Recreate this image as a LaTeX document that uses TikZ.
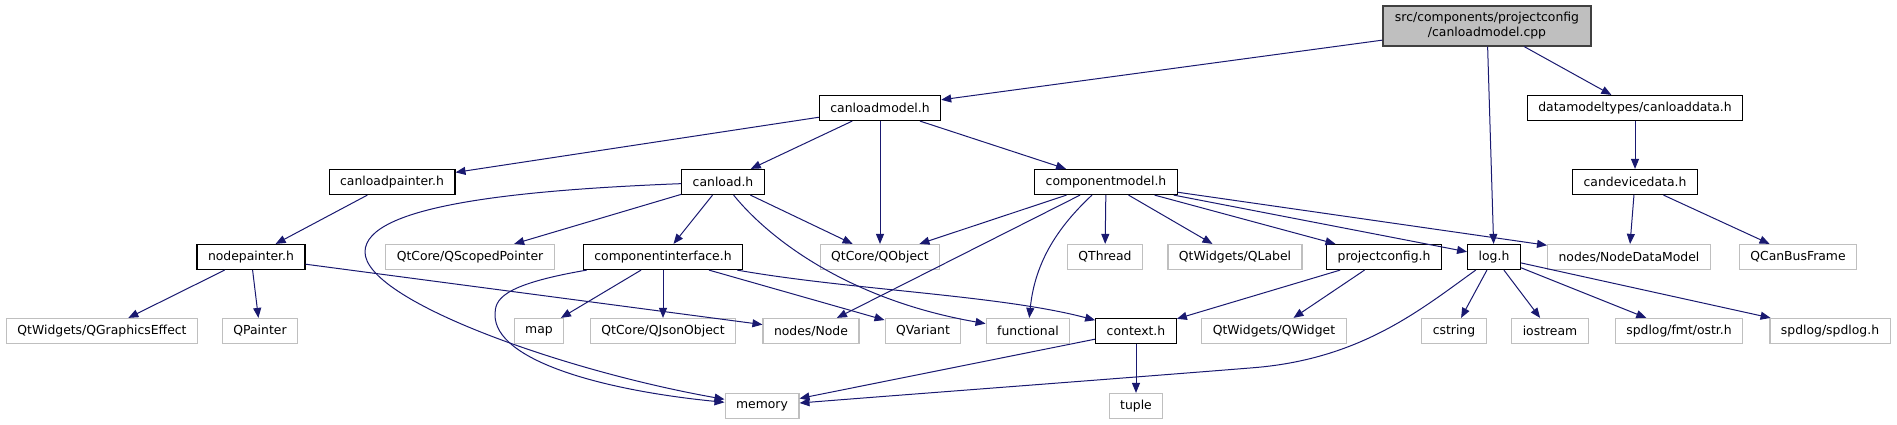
\documentclass[tikz,border=0pt]{standalone}
\usepackage{fontspec}
\setmainfont{DejaVu Sans}
\usetikzlibrary{arrows.meta}
\definecolor{edgeblue}{HTML}{191970}
\definecolor{extgrey}{HTML}{BFBFBF}
\definecolor{topfill}{HTML}{BFBFBF}
\definecolor{topline}{HTML}{404040}

\begin{document}
\begin{tikzpicture}[x=1pt, y=-1pt,
        file/.style={
        rectangle, draw=black, line width=1.2pt,
        fill=white, inner xsep=11pt, inner ysep=0pt,
        minimum height=25pt,
        font=\fontsize{12.4}{15}\selectfont},
        sys/.style={file, draw=extgrey},
        src/.style={file, draw=topline, fill=topfill,
        align=center, minimum height=40pt, inner xsep=12pt},
        dep/.style={draw=edgeblue, line width=1pt,
        -{Triangle[length=10pt, width=8pt]}},
        ]

        \useasboundingbox (0,0) rectangle (1897,425);

        \node (cpp) [src] at (1487,26) {src/components/projectconfig\\/canloadmodel.cpp};

        \node (canloadmodel) [file] at (880,108) {canloadmodel.h};
        \node (canloaddata) [file] at (1635,108) {datamodeltypes/canloaddata.h};

        \node (canloadpainter) [file] at (392,182) {canloadpainter.h};
        \node (canload) [file] at (723,182) {canload.h};
        \node (compmodel) [file] at (1106,182) {componentmodel.h};
        \node (candevice) [file] at (1635,182) {candevicedata.h};

        \node (nodepainter) [file] at (251,257) {nodepainter.h};
        \node (scoped) [sys] at (470,257) {QtCore/QScopedPointer};
        \node (compiface) [file] at (663,257) {componentinterface.h};
        \node (qobject) [sys] at (880,257) {QtCore/QObject};
        \node (qthread) [sys] at (1105,257) {QThread};
        \node (qlabel) [sys] at (1235,257) {QtWidgets/QLabel};
        \node (projcfg) [file] at (1384,257) {projectconfig.h};
        \node (logh) [file] at (1494,257) {log.h};
        \node (nodedm) [sys] at (1629,257) {nodes/NodeDataModel};
        \node (canbus) [sys] at (1798,257) {QCanBusFrame};

        \node (gfx) [sys] at (102,331) {QtWidgets/QGraphicsEffect};
        \node (qpainter) [sys] at (260,331) {QPainter};
        \node (map) [sys] at (539,331) {map};
        \node (json) [sys] at (663,331) {QtCore/QJsonObject};
        \node (nodeh) [sys] at (811,331) {nodes/Node};
        \node (qvariant) [sys] at (923,331) {QVariant};
        \node (functional) [sys] at (1028,331) {functional};
        \node (context) [file] at (1136,331) {context.h};
        \node (qwidget) [sys] at (1274,331) {QtWidgets/QWidget};
        \node (cstring) [sys] at (1454,331) {cstring};
        \node (iostream) [sys] at (1550,331) {iostream};
        \node (ostr) [sys] at (1679,331) {spdlog/fmt/ostr.h};
        \node (spdlog) [sys] at (1830,331) {spdlog/spdlog.h};

        \node (memory) [sys] at (762,406) {memory};
        \node (tuple) [sys] at (1136,406) {tuple};

        \draw [dep] (cpp) -- (canloadmodel);
        \draw [dep] (cpp) -- (logh);
        \draw [dep] (cpp) -- (canloaddata);
        \draw [dep] (canloaddata) -- (candevice);
        \draw [dep] (candevice) -- (nodedm);
        \draw [dep] (candevice) -- (canbus);

        \draw [dep] (canloadmodel) -- (canloadpainter);
        \draw [dep] (canloadmodel) -- (canload);
        \draw [dep] (canloadmodel) -- (qobject);
        \draw [dep] (canloadmodel) -- (compmodel);

        \draw [dep] (canloadpainter) -- (nodepainter);
        \draw [dep] (nodepainter) -- (gfx);
        \draw [dep] (nodepainter) -- (qpainter);
        \draw [dep] (nodepainter) -- (nodeh);

        \draw [dep] (canload) .. controls (520,190) and (365,205) .. (365,252)
            .. controls (365,300) and (560,370) .. (memory);
        \draw [dep] (canload) -- (scoped);
        \draw [dep] (canload) -- (compiface);
        \draw [dep] (canload) -- (qobject);
        \draw [dep] (canload) .. controls (770,240) and (850,300) .. (functional);

        \draw [dep] (compiface) .. controls (500,285) and (495,300) .. (495,315)
            .. controls (495,360) and (600,390) .. (memory);
        \draw [dep] (compiface) -- (map);
        \draw [dep] (compiface) -- (json);
        \draw [dep] (compiface) -- (qvariant);
        \draw [dep] (compiface) .. controls (850,290) and (1000,295) .. (context);

        \draw [dep] (compmodel) -- (qobject);
        \draw [dep] (compmodel) -- (nodeh);
        \draw [dep] (compmodel) .. controls (1060,225) and (1035,260) .. (functional);
        \draw [dep] (compmodel) -- (qthread);
        \draw [dep] (compmodel) -- (qlabel);
        \draw [dep] (compmodel) -- (projcfg);
        \draw [dep] (compmodel) -- (logh);
        \draw [dep] (compmodel) -- (nodedm);

        \draw [dep] (projcfg) -- (context);
        \draw [dep] (projcfg) -- (qwidget);

        \draw [dep] (logh) .. controls (1420,310) and (1360,360) .. (1250,368)
            .. controls (1100,380) and (900,395) .. (memory);
        \draw [dep] (logh) -- (cstring);
        \draw [dep] (logh) -- (iostream);
        \draw [dep] (logh) -- (ostr);
        \draw [dep] (logh) -- (spdlog);

        \draw [dep] (context) -- (memory);
        \draw [dep] (context) -- (tuple);
    \end{tikzpicture}
\end{document}
